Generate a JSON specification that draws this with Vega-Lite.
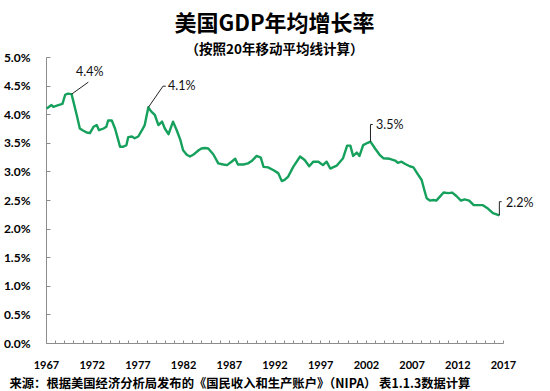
{
  "$schema": "https://vega.github.io/schema/vega-lite/v6.json",
  "width": 457,
  "height": 286,
  "autosize": {"type": "none"},
  "padding": {"left": 46, "top": 57, "right": 47, "bottom": 48},
  "background": "white",
  "config": {
    "view": {"stroke": null},
    "axis": {"labelOverlap": false, "labelFlush": false, "grid": false},
    "axisX": {
      "domainColor": "#8c8c8c", "tickColor": "#8c8c8c", "tickSize": -3,
      "labelFont": "Lato", "labelFontSize": 11, "labelFontWeight": "bold", "labelColor": "#000", "labelPadding": 19,
      "titleFont": "Noto Sans CJK SC", "titleFontSize": 12.3, "titleFontWeight": "bold", "titleColor": "#000",
      "titleAnchor": "start", "titleAlign": "left", "titleBaseline": "middle", "titleX": -37, "titleY": 40
    },
    "axisY": {
      "domainColor": "#8c8c8c", "tickColor": "#8c8c8c", "tickSize": -4,
      "labelFont": "Lato", "labelFontSize": 12, "labelFontWeight": "bold", "labelColor": "#000", "labelPadding": 20
    }
  },
  "title": {
    "text": "美国GDP年均增长率",
    "subtitle": "（按照20年移动平均线计算）",
    "anchor": "middle",
    "frame": "group",
    "font": "Noto Sans CJK SC",
    "fontSize": 22,
    "fontWeight": "bold",
    "color": "#000",
    "subtitleFont": "Noto Sans CJK SC",
    "subtitleFontSize": 13.5,
    "subtitleFontWeight": "bold",
    "subtitleColor": "#000",
    "subtitlePadding": 7,
    "offset": -6
  },
  "datasets": {
    "gdp": [
      {"year": 1967.08, "value": 4.10}, {"year": 1967.6, "value": 4.16}, {"year": 1967.8, "value": 4.13},
      {"year": 1968.35, "value": 4.16}, {"year": 1968.8, "value": 4.18}, {"year": 1969.1, "value": 4.34},
      {"year": 1969.4, "value": 4.36}, {"year": 1969.8, "value": 4.35}, {"year": 1970.0, "value": 4.22},
      {"year": 1970.4, "value": 3.96}, {"year": 1970.7, "value": 3.75}, {"year": 1971.0, "value": 3.72},
      {"year": 1971.45, "value": 3.68}, {"year": 1971.8, "value": 3.67}, {"year": 1972.2, "value": 3.78},
      {"year": 1972.55, "value": 3.81}, {"year": 1972.8, "value": 3.72}, {"year": 1973.3, "value": 3.75},
      {"year": 1973.6, "value": 3.78}, {"year": 1973.8, "value": 3.89}, {"year": 1974.2, "value": 3.89},
      {"year": 1974.55, "value": 3.75}, {"year": 1974.9, "value": 3.55}, {"year": 1975.1, "value": 3.43},
      {"year": 1975.45, "value": 3.43}, {"year": 1975.8, "value": 3.46}, {"year": 1976.0, "value": 3.60},
      {"year": 1976.4, "value": 3.61}, {"year": 1976.7, "value": 3.58}, {"year": 1977.1, "value": 3.61},
      {"year": 1977.5, "value": 3.72}, {"year": 1977.8, "value": 3.81}, {"year": 1978.2, "value": 4.12},
      {"year": 1978.5, "value": 4.05}, {"year": 1978.9, "value": 3.99}, {"year": 1979.3, "value": 3.81},
      {"year": 1979.7, "value": 3.87}, {"year": 1980.0, "value": 3.75}, {"year": 1980.4, "value": 3.65},
      {"year": 1980.9, "value": 3.87}, {"year": 1981.3, "value": 3.72}, {"year": 1981.7, "value": 3.55},
      {"year": 1982.0, "value": 3.37}, {"year": 1982.4, "value": 3.29}, {"year": 1982.75, "value": 3.26},
      {"year": 1983.1, "value": 3.29}, {"year": 1983.7, "value": 3.37}, {"year": 1984.0, "value": 3.40},
      {"year": 1984.4, "value": 3.41}, {"year": 1984.75, "value": 3.40}, {"year": 1985.3, "value": 3.30},
      {"year": 1985.85, "value": 3.14}, {"year": 1986.4, "value": 3.12}, {"year": 1986.8, "value": 3.11},
      {"year": 1987.3, "value": 3.17}, {"year": 1987.7, "value": 3.22}, {"year": 1988.0, "value": 3.12},
      {"year": 1988.6, "value": 3.12}, {"year": 1989.1, "value": 3.14}, {"year": 1989.5, "value": 3.18},
      {"year": 1990.05, "value": 3.27}, {"year": 1990.5, "value": 3.24}, {"year": 1990.8, "value": 3.08},
      {"year": 1991.3, "value": 3.07}, {"year": 1991.9, "value": 3.02}, {"year": 1992.4, "value": 2.97},
      {"year": 1992.8, "value": 2.83}, {"year": 1993.1, "value": 2.85}, {"year": 1993.5, "value": 2.91},
      {"year": 1994.05, "value": 3.08}, {"year": 1994.8, "value": 3.26}, {"year": 1995.3, "value": 3.20},
      {"year": 1995.8, "value": 3.09}, {"year": 1996.25, "value": 3.17}, {"year": 1996.8, "value": 3.17},
      {"year": 1997.3, "value": 3.11}, {"year": 1997.7, "value": 3.17}, {"year": 1998.1, "value": 3.05},
      {"year": 1998.8, "value": 3.10}, {"year": 1999.5, "value": 3.23}, {"year": 1999.95, "value": 3.45},
      {"year": 2000.3, "value": 3.45}, {"year": 2000.6, "value": 3.27}, {"year": 2001.0, "value": 3.33},
      {"year": 2001.3, "value": 3.27}, {"year": 2001.7, "value": 3.46}, {"year": 2002.2, "value": 3.50},
      {"year": 2002.5, "value": 3.52}, {"year": 2003.0, "value": 3.40}, {"year": 2003.5, "value": 3.29},
      {"year": 2003.9, "value": 3.23}, {"year": 2004.6, "value": 3.22}, {"year": 2005.2, "value": 3.19},
      {"year": 2005.5, "value": 3.15}, {"year": 2005.9, "value": 3.17}, {"year": 2006.3, "value": 3.13},
      {"year": 2006.8, "value": 3.09}, {"year": 2007.2, "value": 3.07}, {"year": 2007.6, "value": 2.97},
      {"year": 2008.1, "value": 2.85}, {"year": 2008.4, "value": 2.67}, {"year": 2008.65, "value": 2.53},
      {"year": 2009.0, "value": 2.49}, {"year": 2009.4, "value": 2.50}, {"year": 2009.7, "value": 2.49},
      {"year": 2010.1, "value": 2.56}, {"year": 2010.5, "value": 2.63}, {"year": 2011.0, "value": 2.62},
      {"year": 2011.45, "value": 2.63}, {"year": 2011.9, "value": 2.57}, {"year": 2012.4, "value": 2.49},
      {"year": 2012.8, "value": 2.51}, {"year": 2013.3, "value": 2.49}, {"year": 2013.8, "value": 2.41},
      {"year": 2014.3, "value": 2.41}, {"year": 2014.8, "value": 2.41}, {"year": 2015.35, "value": 2.35},
      {"year": 2015.9, "value": 2.27}, {"year": 2016.6, "value": 2.23}
    ],
    "leaders": [
      {"x": 1969.8, "y": 4.35, "x2": 1971.63, "y2": 4.56},
      {"x": 1978.2, "y": 4.12, "x2": 1979.8, "y2": 4.49},
      {"x": 1979.8, "y": 4.49, "x2": 1980.1, "y2": 4.49},
      {"x": 2002.5, "y": 3.52, "x2": 2002.5, "y2": 3.82},
      {"x": 2002.5, "y": 3.82, "x2": 2002.75, "y2": 3.82},
      {"x": 2016.6, "y": 2.23, "x2": 2016.6, "y2": 2.47},
      {"x": 2016.6, "y": 2.47, "x2": 2016.85, "y2": 2.47}
    ],
    "labels": [
      {"year": 1970.28, "value": 4.74, "text": "4.4%"},
      {"year": 1980.35, "value": 4.49, "text": "4.1%"},
      {"year": 2003.1, "value": 3.81, "text": "3.5%"},
      {"year": 2017.33, "value": 2.45, "text": "2.2%"}
    ]
  },
  "encoding": {
    "x": {
      "type": "quantitative",
      "scale": {"domain": [1967, 2017], "nice": false, "zero": false},
      "axis": {
        "values": [1967,1968,1969,1970,1971,1972,1973,1974,1975,1976,1977,1978,1979,1980,1981,1982,1983,1984,1985,1986,1987,1988,1989,1990,1991,1992,1993,1994,1995,1996,1997,1998,1999,2000,2001,2002,2003,2004,2005,2006,2007,2008,2009,2010,2011,2012,2013,2014,2015,2016,2017],
        "labelExpr": "(datum.value - 1967) % 5 == 0 ? format(datum.value, 'd') : ''",
        "labelOverlap": false,
        "title": "来源：根据美国经济分析局发布的《国民收入和生产账户》（NIPA） 表1.1.3数据计算"
      }
    },
    "y": {
      "type": "quantitative",
      "scale": {"domain": [0, 5], "nice": false},
      "axis": {
        "values": [0, 0.5, 1, 1.5, 2, 2.5, 3, 3.5, 4, 4.5, 5],
        "labelExpr": "format(datum.value, '.1f') + '%'",
        "labelOverlap": false,
        "title": null
      }
    }
  },
  "layer": [
    {
      "data": {"name": "gdp"},
      "mark": {"type": "line", "color": "#15a05c", "strokeWidth": 2.4, "strokeJoin": "round"},
      "encoding": {
        "x": {"field": "year"},
        "y": {"field": "value"}
      }
    },
    {
      "data": {"name": "leaders"},
      "mark": {"type": "rule", "color": "#222", "strokeWidth": 1},
      "encoding": {
        "x": {"field": "x"},
        "y": {"field": "y"},
        "x2": {"field": "x2"},
        "y2": {"field": "y2"}
      }
    },
    {
      "data": {"name": "labels"},
      "mark": {"type": "text", "align": "left", "baseline": "middle", "font": "Lato", "fontSize": 12.5, "color": "#111"},
      "encoding": {
        "x": {"field": "year"},
        "y": {"field": "value"},
        "text": {"field": "text"}
      }
    }
  ]
}
